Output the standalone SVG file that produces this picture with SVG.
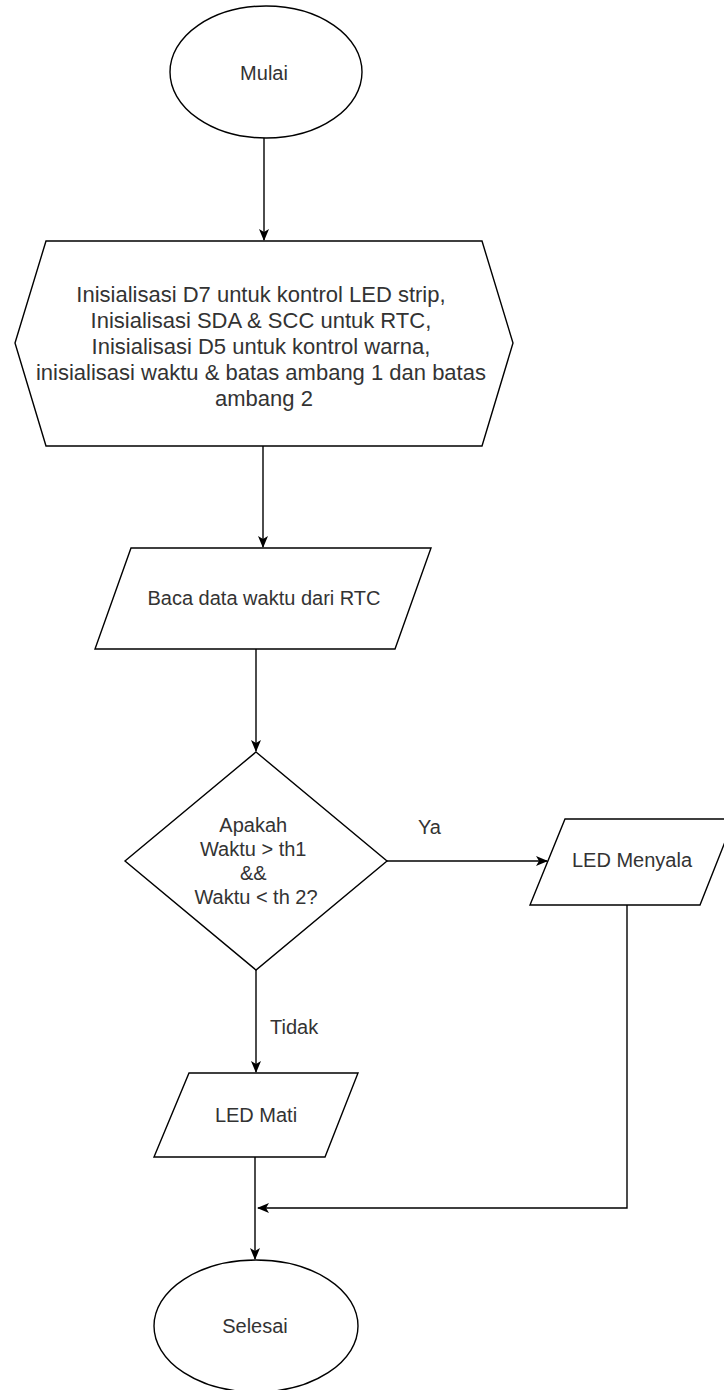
<svg xmlns="http://www.w3.org/2000/svg" width="724" height="1390" viewBox="0 0 724 1390">
<style>
.s{fill:#fff;stroke:#000;stroke-width:1.4}
.t{font-family:"Liberation Sans",Arial,sans-serif;font-size:20px;fill:#333;text-anchor:middle}
.l{font-family:"Liberation Sans",Arial,sans-serif;font-size:20px;fill:#333}
.c{fill:none;stroke:#000;stroke-width:1.4}
</style>
<defs>
<marker id="a" viewBox="0 0 12 10" refX="11" refY="5" markerWidth="12" markerHeight="10" markerUnits="userSpaceOnUse" orient="auto">
<path d="M0,0 L12,5 L0,10 L3,5 Z" fill="#000"/>
</marker>
</defs>
<rect width="724" height="1390" fill="#fff"/>
<g id="connectors">
<path class="c" d="M264,138 L264,240" marker-end="url(#a)"/>
<path class="c" d="M263,446 L263,547" marker-end="url(#a)"/>
<path class="c" d="M256,649 L256,751" marker-end="url(#a)"/>
<path class="c" d="M387,861 L547,861" marker-end="url(#a)"/>
<path class="c" d="M256,970 L256,1072" marker-end="url(#a)"/>
<path class="c" d="M255,1157 L255,1259" marker-end="url(#a)"/>
<path class="c" d="M627,905 L627,1208 L258,1208" marker-end="url(#a)"/>
<text class="l" x="418" y="834">Ya</text>
<text class="l" x="270" y="1034">Tidak</text>
</g>
<g id="mulai">
<ellipse class="s" cx="266" cy="72" rx="96" ry="66"/>
<text class="t" x="264" y="80">Mulai</text>
</g>
<g id="init">
<path class="s" d="M46,241 L482,241 L513,343 L482,446 L46,446 L15,343 Z"/>
<text class="t" style="font-size:22px" x="264">
<tspan x="264" y="302">Inisialisasi D7 untuk kontrol LED strip,</tspan>
<tspan x="264" y="328">Inisialisasi SDA &amp; SCC untuk RTC,</tspan>
<tspan x="264" y="354">Inisialisasi D5 untuk kontrol warna,</tspan>
<tspan x="264" y="380">inisialisasi waktu &amp; batas ambang 1 dan batas</tspan>
<tspan x="264" y="406">ambang 2</tspan>
</text>
</g>
<g id="baca">
<path class="s" d="M131,548 L431,548 L395,649 L95,649 Z"/>
<text class="t" x="264" y="605">Baca data waktu dari RTC</text>
</g>
<g id="decision">
<path class="s" d="M256,752 L387,861 L256,970 L125,861 Z"/>
<text class="t">
<tspan x="256" y="832">Apakah</tspan>
<tspan x="256" y="856">Waktu &gt; th1</tspan>
<tspan x="256" y="880">&amp;&amp;</tspan>
<tspan x="256" y="904">Waktu &lt; th 2?</tspan>
</text>
</g>
<g id="menyala">
<path class="s" d="M565,819 L734,819 L700,905 L530,905 Z"/>
<text class="t" x="632" y="867">LED Menyala</text>
</g>
<g id="mati">
<path class="s" d="M189,1073 L358,1073 L325,1157 L154,1157 Z"/>
<text class="t" x="256" y="1122">LED Mati</text>
</g>
<g id="selesai">
<ellipse class="s" cx="256" cy="1326" rx="102" ry="66"/>
<text class="t" x="255" y="1333">Selesai</text>
</g>
</svg>
